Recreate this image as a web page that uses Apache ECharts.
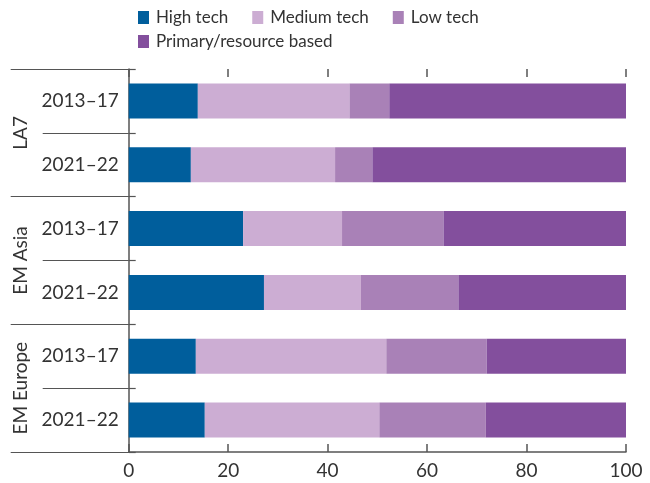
<!DOCTYPE html>
<html>
<head>
<meta charset="utf-8">
<script src="https://cdn.jsdelivr.net/npm/echarts@6/dist/echarts.min.js"></script>
<style>html,body{margin:0;padding:0;background:#fff}#c{width:650px;height:483px}</style>
</head>
<body>
<div id="c"></div>
<script>
const periods = ['2013–17', '2021–22', '2013–17', '2021–22', '2013–17', '2021–22'];
const groups = ['LA7', 'EM Asia', 'EM Europe'];
const seriesNames = ['High tech', 'Medium tech', 'Low tech', 'Primary/resource based'];
const highTech = [13.9, 12.5, 23.0, 27.2, 13.5, 15.3];
const mediumTech = [30.5, 29.0, 19.9, 19.5, 38.3, 35.1];
const lowTech = [8.0, 7.5, 20.4, 19.6, 20.2, 21.4];
const primary = [47.6, 51.0, 36.7, 33.7, 28.0, 28.2];
const xTicks = [0, 20, 40, 60, 80, 100];
const colors = ['#005e9c', '#ccadd3', '#a981b7', '#834f9d'];

const FONT = 'Lato';
const TXT = '#333333';
const LINE = '#555555';
const values = [highTech, mediumTech, lowTech, primary];

const legendBase = {
  left: 138, padding: 0, orient: 'horizontal',
  itemWidth: 11, itemHeight: 13, itemGap: 24,
  icon: 'rect',
  textStyle: { fontFamily: FONT, fontSize: 17, color: TXT, padding: [0, 0, 0, 2] }
};

const chart = echarts.init(document.getElementById('c'));
chart.setOption({
  animation: false,
  textStyle: { fontFamily: FONT },
  legend: [
    Object.assign({}, legendBase, { top: 9, data: seriesNames.slice(0, 3) }),
    Object.assign({}, legendBase, { top: 33, data: seriesNames.slice(3) })
  ],
  grid: { left: 128.7, right: 24, top: 69, bottom: 31, containLabel: false },
  xAxis: [{
    type: 'value', min: xTicks[0], max: xTicks[xTicks.length - 1], interval: 20,
    position: 'bottom',
    axisLine: { show: true, lineStyle: { color: LINE, width: 1.5 } },
    axisTick: { show: true, inside: true, length: 8, lineStyle: { color: LINE, width: 1.5 } },
    axisLabel: { fontFamily: FONT, fontSize: 19, color: TXT, margin: 9 },
    splitLine: { show: false }
  }, {
    type: 'value', min: xTicks[0], max: xTicks[xTicks.length - 1], interval: 20,
    position: 'top',
    axisLine: { show: false },
    axisTick: { show: true, inside: true, length: 8, lineStyle: { color: LINE, width: 1.5 } },
    axisLabel: { show: false },
    splitLine: { show: false }
  }],
  yAxis: [{
    type: 'category', data: periods, inverse: true, position: 'left',
    axisLine: { show: true, lineStyle: { color: LINE, width: 1.5 } },
    axisTick: { show: true, interval: 0, length: 86, lineStyle: { color: LINE, width: 1.2 } },
    axisLabel: { fontFamily: FONT, fontSize: 19, color: TXT, margin: 10 }
  }, {
    type: 'category', data: groups, inverse: true, position: 'left',
    axisLine: { show: false },
    axisTick: { show: true, interval: 0, length: 118, lineStyle: { color: LINE, width: 1.2 } },
    axisLabel: { fontFamily: FONT, fontSize: 19, color: TXT, rotate: 90, margin: 108, align: 'center', verticalAlign: 'middle' }
  }, {
    type: 'category', data: periods, inverse: true, position: 'left',
    axisLine: { show: false },
    axisTick: { show: true, inside: true, interval: 0, length: 7, lineStyle: { color: LINE, width: 1.2 } },
    axisLabel: { show: false }
  }],
  series: values.map((v, i) => ({
    name: seriesNames[i], type: 'bar', stack: 'total',
    xAxisIndex: 0, yAxisIndex: 0,
    barWidth: 35,
    itemStyle: { color: colors[i] },
    data: v
  }))
});
</script>
</body>
</html>
